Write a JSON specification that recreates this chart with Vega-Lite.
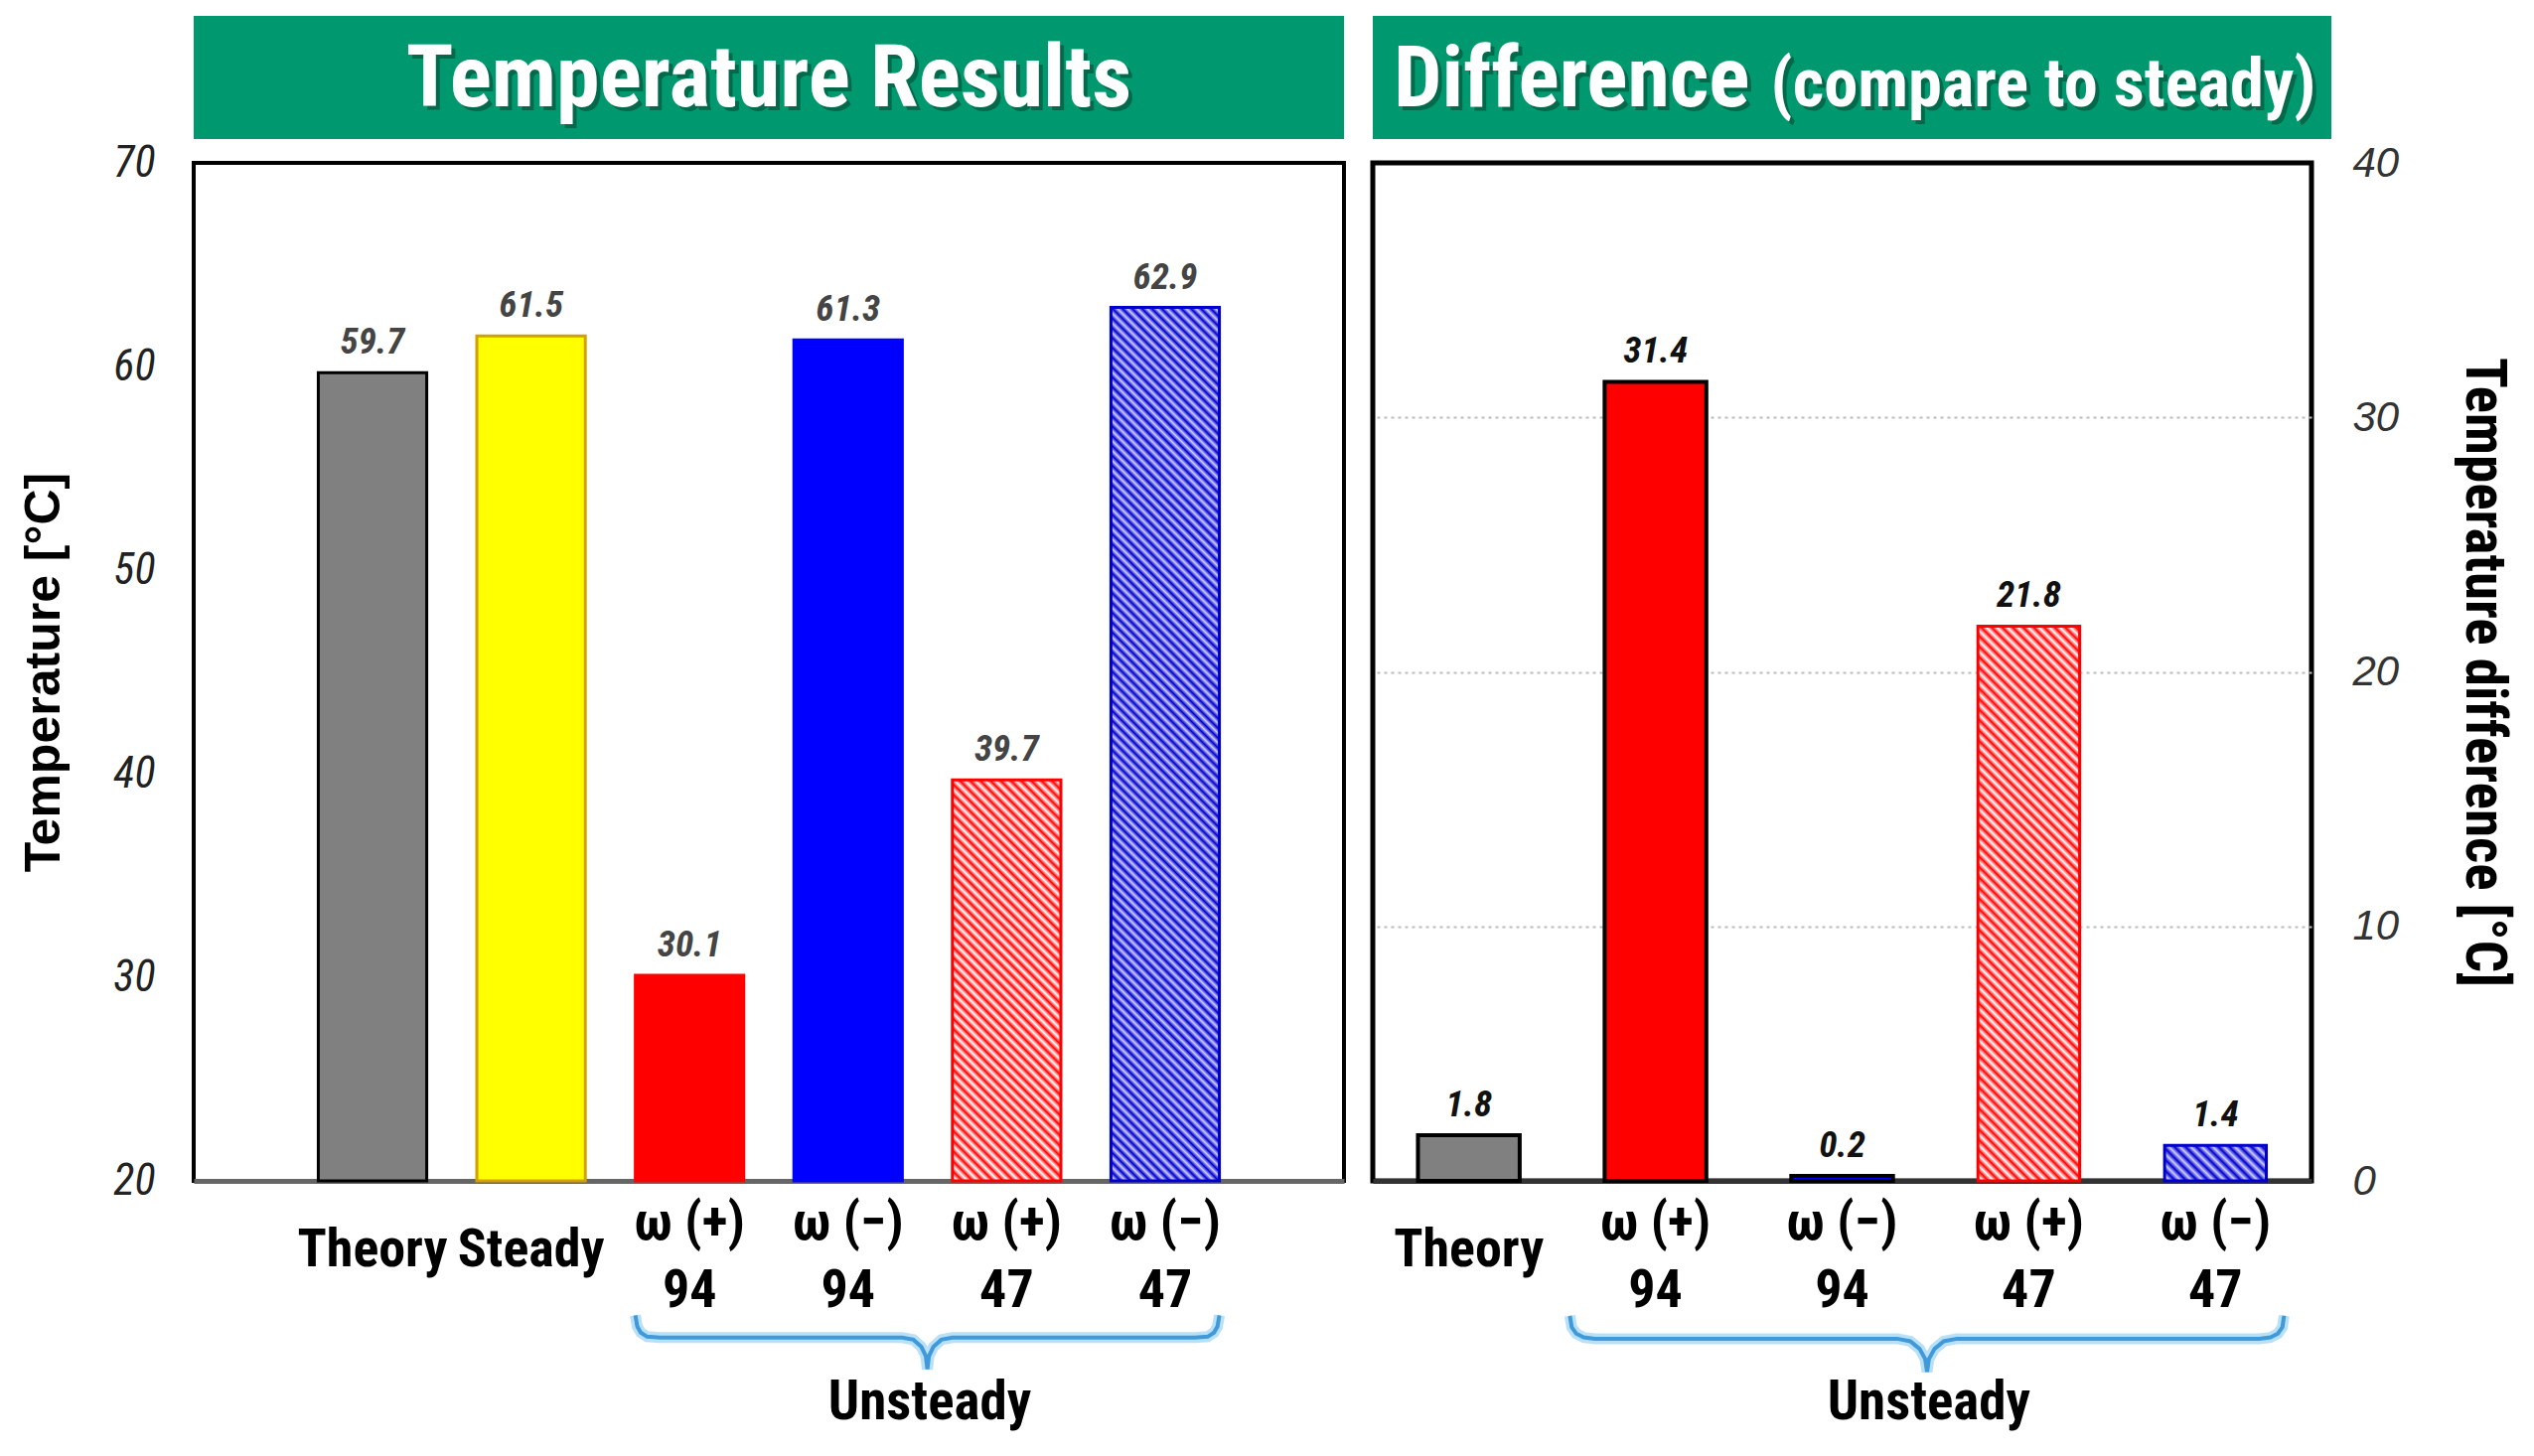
{
  "$schema": "https://vega.github.io/schema/vega-lite/v6.json",
  "background": "white",
  "padding": {"left": 17, "top": 16, "right": 5, "bottom": 5},
  "config": {
    "font": "Roboto Condensed, sans-serif",
    "view": {"stroke": null}
  },
  "datasets": {
    "temps": [
      {"cat": "Theory", "temp": 59.7},
      {"cat": "Steady", "temp": 61.5},
      {"cat": "ω (+)|94", "temp": 30.1},
      {"cat": "ω (−)|94", "temp": 61.3},
      {"cat": "ω (+)|47", "temp": 39.7},
      {"cat": "ω (−)|47", "temp": 62.9}
    ],
    "diffs": [
      {"cat": "Theory", "diff": 1.8},
      {"cat": "ω (+)|94", "diff": 31.4},
      {"cat": "ω (−)|94", "diff": 0.2},
      {"cat": "ω (+)|47", "diff": 21.8},
      {"cat": "ω (−)|47", "diff": 1.4}
    ],
    "braceL": [
      {"bx": 2.786, "by": 13.4}, {"bx": 2.798, "by": 12.85}, {"bx": 2.82, "by": 12.55}, {"bx": 2.86, "by": 12.35}, {"bx": 2.94, "by": 12.3},
      {"bx": 4.47, "by": 12.3}, {"bx": 4.54, "by": 12.2}, {"bx": 4.59, "by": 11.85}, {"bx": 4.618, "by": 11.4}, {"bx": 4.628, "by": 10.75},
      {"bx": 4.638, "by": 11.4}, {"bx": 4.666, "by": 11.85}, {"bx": 4.716, "by": 12.2}, {"bx": 4.786, "by": 12.3},
      {"bx": 6.316, "by": 12.3}, {"bx": 6.396, "by": 12.35}, {"bx": 6.436, "by": 12.55}, {"bx": 6.458, "by": 12.85}, {"bx": 6.47, "by": 13.4}
    ],
    "braceR": [
      {"bx": 1.056, "by": -5.3}, {"bx": 1.066, "by": -5.75}, {"bx": 1.09, "by": -6.0}, {"bx": 1.13, "by": -6.15}, {"bx": 1.19, "by": -6.2},
      {"bx": 2.81, "by": -6.2}, {"bx": 2.88, "by": -6.3}, {"bx": 2.93, "by": -6.6}, {"bx": 2.96, "by": -7.0}, {"bx": 2.97, "by": -7.5},
      {"bx": 2.98, "by": -7.0}, {"bx": 3.01, "by": -6.6}, {"bx": 3.06, "by": -6.3}, {"bx": 3.13, "by": -6.2},
      {"bx": 4.75, "by": -6.2}, {"bx": 4.81, "by": -6.15}, {"bx": 4.85, "by": -6.0}, {"bx": 4.874, "by": -5.75}, {"bx": 4.883, "by": -5.3}
    ]
  },
  "hconcat": [
    {
      "bounds": "flush",
      "spacing": 24,
      "vconcat": [
        {
          "width": 1158,
          "height": 124,
          "view": {"fill": "#00996f", "stroke": null},
          "data": {"values": [{"t": "Temperature Results"}]},
          "layer": [
            {"mark": {"type": "text", "font": "Roboto Condensed, sans-serif", "fontSize": 88, "fontWeight": "bold", "baseline": "alphabetic", "align": "center", "color": "#063b28", "opacity": 0.5, "dx": 4, "dy": 33}, "encoding": {"text": {"field": "t"}}},
            {"mark": {"type": "text", "font": "Roboto Condensed, sans-serif", "fontSize": 88, "fontWeight": "bold", "baseline": "alphabetic", "align": "center", "color": "#ffffff", "dy": 29}, "encoding": {"text": {"field": "t"}}}
          ]
        },
        {
          "width": 1158,
          "height": 1025,
          "view": {"stroke": "#000000", "strokeWidth": 4},
          "layer": [
            {
              "data": {"name": "temps"},
              "encoding": {
                "x": {
                  "field": "cat", "type": "nominal", "sort": null,
                  "scale": {"domain": ["Theory", "Steady", "ω (+)|94", "ω (−)|94", "ω (+)|47", "ω (−)|47"], "paddingInner": 0.316, "paddingOuter": 0.786},
                  "axis": {"title": null, "labelExpr": "split(datum.value, '|')", "labelAngle": 0, "labelFont": "Roboto Condensed, sans-serif", "labelFontSize": 54, "labelFontWeight": "bold", "labelColor": "#000000", "labelBaseline": {"condition": {"test": "indexof(datum.value, '|') < 0", "value": "top"}, "value": "middle"}, "labelPadding": 42, "labelLineHeight": 68, "labelLimit": 0, "ticks": false, "domainColor": "#666666", "domainWidth": 5, "labelOverlap": false, "labelBound": false, "labelFlush": false}
                },
                "y": {
                  "field": "temp", "type": "quantitative",
                  "scale": {"domain": [20, 70], "zero": false, "nice": false},
                  "axis": {"title": "Temperature [°C]", "values": [20, 30, 40, 50, 60, 70], "grid": false, "domain": false, "ticks": false, "labelFont": "Roboto Condensed, sans-serif", "labelFontSize": 44, "labelFontStyle": "italic", "labelColor": "#222222", "labelPadding": 39, "titleFont": "Liberation Sans, Arial, sans-serif", "titleFontSize": 50, "titleFontWeight": "bold", "titleColor": "#000000", "titlePadding": 44}
                }
              },
              "layer": [
                {
                  "transform": [{"filter": {"field": "cat", "oneOf": ["Theory", "Steady", "ω (+)|94", "ω (−)|94"]}}],
                  "mark": {"type": "bar", "strokeWidth": 3},
                  "encoding": {
                    "y2": {"datum": 20},
                    "fill": {"field": "cat", "type": "nominal", "legend": null, "scale": {"domain": ["Theory", "Steady", "ω (+)|94", "ω (−)|94"], "range": ["#808080", "#ffff00", "#ff0000", "#0000ff"]}},
                    "stroke": {"field": "cat", "type": "nominal", "legend": null, "scale": {"domain": ["Theory", "Steady", "ω (+)|94", "ω (−)|94"], "range": ["#000000", "#d4a000", "#ff0000", "#0000ff"]}}
                  }
                },
                {
                  "transform": [{"filter": {"field": "cat", "equal": "ω (+)|47"}}],
                  "mark": {"type": "bar", "stroke": "#ff0000", "strokeWidth": 3, "fill": {"gradient": "linear", "x1": 0, "y1": 1, "x2": 0.32, "y2": -0.184, "stops": [
{"offset":0,"color":"#f00"},{"offset":0.01,"color":"#fff"},{"offset":0.02,"color":"#f00"},{"offset":0.03,"color":"#fff"},{"offset":0.04,"color":"#f00"},{"offset":0.05,"color":"#fff"},{"offset":0.06,"color":"#f00"},{"offset":0.07,"color":"#fff"},{"offset":0.08,"color":"#f00"},{"offset":0.09,"color":"#fff"},
{"offset":0.1,"color":"#f00"},{"offset":0.11,"color":"#fff"},{"offset":0.12,"color":"#f00"},{"offset":0.13,"color":"#fff"},{"offset":0.14,"color":"#f00"},{"offset":0.15,"color":"#fff"},{"offset":0.16,"color":"#f00"},{"offset":0.17,"color":"#fff"},{"offset":0.18,"color":"#f00"},{"offset":0.19,"color":"#fff"},
{"offset":0.2,"color":"#f00"},{"offset":0.21,"color":"#fff"},{"offset":0.22,"color":"#f00"},{"offset":0.23,"color":"#fff"},{"offset":0.24,"color":"#f00"},{"offset":0.25,"color":"#fff"},{"offset":0.26,"color":"#f00"},{"offset":0.27,"color":"#fff"},{"offset":0.28,"color":"#f00"},{"offset":0.29,"color":"#fff"},
{"offset":0.3,"color":"#f00"},{"offset":0.31,"color":"#fff"},{"offset":0.32,"color":"#f00"},{"offset":0.33,"color":"#fff"},{"offset":0.34,"color":"#f00"},{"offset":0.35,"color":"#fff"},{"offset":0.36,"color":"#f00"},{"offset":0.37,"color":"#fff"},{"offset":0.38,"color":"#f00"},{"offset":0.39,"color":"#fff"},
{"offset":0.4,"color":"#f00"},{"offset":0.41,"color":"#fff"},{"offset":0.42,"color":"#f00"},{"offset":0.43,"color":"#fff"},{"offset":0.44,"color":"#f00"},{"offset":0.45,"color":"#fff"},{"offset":0.46,"color":"#f00"},{"offset":0.47,"color":"#fff"},{"offset":0.48,"color":"#f00"},{"offset":0.49,"color":"#fff"},
{"offset":0.5,"color":"#f00"},{"offset":0.51,"color":"#fff"},{"offset":0.52,"color":"#f00"},{"offset":0.53,"color":"#fff"},{"offset":0.54,"color":"#f00"},{"offset":0.55,"color":"#fff"},{"offset":0.56,"color":"#f00"},{"offset":0.57,"color":"#fff"},{"offset":0.58,"color":"#f00"},{"offset":0.59,"color":"#fff"},
{"offset":0.6,"color":"#f00"},{"offset":0.61,"color":"#fff"},{"offset":0.62,"color":"#f00"},{"offset":0.63,"color":"#fff"},{"offset":0.64,"color":"#f00"},{"offset":0.65,"color":"#fff"},{"offset":0.66,"color":"#f00"},{"offset":0.67,"color":"#fff"},{"offset":0.68,"color":"#f00"},{"offset":0.69,"color":"#fff"},
{"offset":0.7,"color":"#f00"},{"offset":0.71,"color":"#fff"},{"offset":0.72,"color":"#f00"},{"offset":0.73,"color":"#fff"},{"offset":0.74,"color":"#f00"},{"offset":0.75,"color":"#fff"},{"offset":0.76,"color":"#f00"},{"offset":0.77,"color":"#fff"},{"offset":0.78,"color":"#f00"},{"offset":0.79,"color":"#fff"},
{"offset":0.8,"color":"#f00"},{"offset":0.81,"color":"#fff"},{"offset":0.82,"color":"#f00"},{"offset":0.83,"color":"#fff"},{"offset":0.84,"color":"#f00"},{"offset":0.85,"color":"#fff"},{"offset":0.86,"color":"#f00"},{"offset":0.87,"color":"#fff"},{"offset":0.88,"color":"#f00"},{"offset":0.89,"color":"#fff"},
{"offset":0.9,"color":"#f00"},{"offset":0.91,"color":"#fff"},{"offset":0.92,"color":"#f00"},{"offset":0.93,"color":"#fff"},{"offset":0.94,"color":"#f00"},{"offset":0.95,"color":"#fff"},{"offset":0.96,"color":"#f00"},{"offset":0.97,"color":"#fff"},{"offset":0.98,"color":"#f00"},{"offset":0.99,"color":"#fff"},
{"offset":1,"color":"#f00"}]}},
                  "encoding": {"y2": {"datum": 20}}
                },
                {
                  "transform": [{"filter": {"field": "cat", "equal": "ω (−)|47"}}],
                  "mark": {"type": "bar", "stroke": "#0000cc", "strokeWidth": 3, "fill": {"gradient": "linear", "x1": 0, "y1": 1, "x2": 0.1375, "y2": -0.1071, "stops": [
{"offset":0,"color":"#00c"},{"offset":0.005,"color":"#ccf"},{"offset":0.01,"color":"#00c"},{"offset":0.015,"color":"#ccf"},{"offset":0.02,"color":"#00c"},{"offset":0.025,"color":"#ccf"},{"offset":0.03,"color":"#00c"},{"offset":0.035,"color":"#ccf"},{"offset":0.04,"color":"#00c"},{"offset":0.045,"color":"#ccf"},
{"offset":0.05,"color":"#00c"},{"offset":0.055,"color":"#ccf"},{"offset":0.06,"color":"#00c"},{"offset":0.065,"color":"#ccf"},{"offset":0.07,"color":"#00c"},{"offset":0.075,"color":"#ccf"},{"offset":0.08,"color":"#00c"},{"offset":0.085,"color":"#ccf"},{"offset":0.09,"color":"#00c"},{"offset":0.095,"color":"#ccf"},
{"offset":0.1,"color":"#00c"},{"offset":0.105,"color":"#ccf"},{"offset":0.11,"color":"#00c"},{"offset":0.115,"color":"#ccf"},{"offset":0.12,"color":"#00c"},{"offset":0.125,"color":"#ccf"},{"offset":0.13,"color":"#00c"},{"offset":0.135,"color":"#ccf"},{"offset":0.14,"color":"#00c"},{"offset":0.145,"color":"#ccf"},
{"offset":0.15,"color":"#00c"},{"offset":0.155,"color":"#ccf"},{"offset":0.16,"color":"#00c"},{"offset":0.165,"color":"#ccf"},{"offset":0.17,"color":"#00c"},{"offset":0.175,"color":"#ccf"},{"offset":0.18,"color":"#00c"},{"offset":0.185,"color":"#ccf"},{"offset":0.19,"color":"#00c"},{"offset":0.195,"color":"#ccf"},
{"offset":0.2,"color":"#00c"},{"offset":0.205,"color":"#ccf"},{"offset":0.21,"color":"#00c"},{"offset":0.215,"color":"#ccf"},{"offset":0.22,"color":"#00c"},{"offset":0.225,"color":"#ccf"},{"offset":0.23,"color":"#00c"},{"offset":0.235,"color":"#ccf"},{"offset":0.24,"color":"#00c"},{"offset":0.245,"color":"#ccf"},
{"offset":0.25,"color":"#00c"},{"offset":0.255,"color":"#ccf"},{"offset":0.26,"color":"#00c"},{"offset":0.265,"color":"#ccf"},{"offset":0.27,"color":"#00c"},{"offset":0.275,"color":"#ccf"},{"offset":0.28,"color":"#00c"},{"offset":0.285,"color":"#ccf"},{"offset":0.29,"color":"#00c"},{"offset":0.295,"color":"#ccf"},
{"offset":0.3,"color":"#00c"},{"offset":0.305,"color":"#ccf"},{"offset":0.31,"color":"#00c"},{"offset":0.315,"color":"#ccf"},{"offset":0.32,"color":"#00c"},{"offset":0.325,"color":"#ccf"},{"offset":0.33,"color":"#00c"},{"offset":0.335,"color":"#ccf"},{"offset":0.34,"color":"#00c"},{"offset":0.345,"color":"#ccf"},
{"offset":0.35,"color":"#00c"},{"offset":0.355,"color":"#ccf"},{"offset":0.36,"color":"#00c"},{"offset":0.365,"color":"#ccf"},{"offset":0.37,"color":"#00c"},{"offset":0.375,"color":"#ccf"},{"offset":0.38,"color":"#00c"},{"offset":0.385,"color":"#ccf"},{"offset":0.39,"color":"#00c"},{"offset":0.395,"color":"#ccf"},
{"offset":0.4,"color":"#00c"},{"offset":0.405,"color":"#ccf"},{"offset":0.41,"color":"#00c"},{"offset":0.415,"color":"#ccf"},{"offset":0.42,"color":"#00c"},{"offset":0.425,"color":"#ccf"},{"offset":0.43,"color":"#00c"},{"offset":0.435,"color":"#ccf"},{"offset":0.44,"color":"#00c"},{"offset":0.445,"color":"#ccf"},
{"offset":0.45,"color":"#00c"},{"offset":0.455,"color":"#ccf"},{"offset":0.46,"color":"#00c"},{"offset":0.465,"color":"#ccf"},{"offset":0.47,"color":"#00c"},{"offset":0.475,"color":"#ccf"},{"offset":0.48,"color":"#00c"},{"offset":0.485,"color":"#ccf"},{"offset":0.49,"color":"#00c"},{"offset":0.495,"color":"#ccf"},
{"offset":0.5,"color":"#00c"},{"offset":0.505,"color":"#ccf"},{"offset":0.51,"color":"#00c"},{"offset":0.515,"color":"#ccf"},{"offset":0.52,"color":"#00c"},{"offset":0.525,"color":"#ccf"},{"offset":0.53,"color":"#00c"},{"offset":0.535,"color":"#ccf"},{"offset":0.54,"color":"#00c"},{"offset":0.545,"color":"#ccf"},
{"offset":0.55,"color":"#00c"},{"offset":0.555,"color":"#ccf"},{"offset":0.56,"color":"#00c"},{"offset":0.565,"color":"#ccf"},{"offset":0.57,"color":"#00c"},{"offset":0.575,"color":"#ccf"},{"offset":0.58,"color":"#00c"},{"offset":0.585,"color":"#ccf"},{"offset":0.59,"color":"#00c"},{"offset":0.595,"color":"#ccf"},
{"offset":0.6,"color":"#00c"},{"offset":0.605,"color":"#ccf"},{"offset":0.61,"color":"#00c"},{"offset":0.615,"color":"#ccf"},{"offset":0.62,"color":"#00c"},{"offset":0.625,"color":"#ccf"},{"offset":0.63,"color":"#00c"},{"offset":0.635,"color":"#ccf"},{"offset":0.64,"color":"#00c"},{"offset":0.645,"color":"#ccf"},
{"offset":0.65,"color":"#00c"},{"offset":0.655,"color":"#ccf"},{"offset":0.66,"color":"#00c"},{"offset":0.665,"color":"#ccf"},{"offset":0.67,"color":"#00c"},{"offset":0.675,"color":"#ccf"},{"offset":0.68,"color":"#00c"},{"offset":0.685,"color":"#ccf"},{"offset":0.69,"color":"#00c"},{"offset":0.695,"color":"#ccf"},
{"offset":0.7,"color":"#00c"},{"offset":0.705,"color":"#ccf"},{"offset":0.71,"color":"#00c"},{"offset":0.715,"color":"#ccf"},{"offset":0.72,"color":"#00c"},{"offset":0.725,"color":"#ccf"},{"offset":0.73,"color":"#00c"},{"offset":0.735,"color":"#ccf"},{"offset":0.74,"color":"#00c"},{"offset":0.745,"color":"#ccf"},
{"offset":0.75,"color":"#00c"},{"offset":0.755,"color":"#ccf"},{"offset":0.76,"color":"#00c"},{"offset":0.765,"color":"#ccf"},{"offset":0.77,"color":"#00c"},{"offset":0.775,"color":"#ccf"},{"offset":0.78,"color":"#00c"},{"offset":0.785,"color":"#ccf"},{"offset":0.79,"color":"#00c"},{"offset":0.795,"color":"#ccf"},
{"offset":0.8,"color":"#00c"},{"offset":0.805,"color":"#ccf"},{"offset":0.81,"color":"#00c"},{"offset":0.815,"color":"#ccf"},{"offset":0.82,"color":"#00c"},{"offset":0.825,"color":"#ccf"},{"offset":0.83,"color":"#00c"},{"offset":0.835,"color":"#ccf"},{"offset":0.84,"color":"#00c"},{"offset":0.845,"color":"#ccf"},
{"offset":0.85,"color":"#00c"},{"offset":0.855,"color":"#ccf"},{"offset":0.86,"color":"#00c"},{"offset":0.865,"color":"#ccf"},{"offset":0.87,"color":"#00c"},{"offset":0.875,"color":"#ccf"},{"offset":0.88,"color":"#00c"},{"offset":0.885,"color":"#ccf"},{"offset":0.89,"color":"#00c"},{"offset":0.895,"color":"#ccf"},
{"offset":0.9,"color":"#00c"},{"offset":0.905,"color":"#ccf"},{"offset":0.91,"color":"#00c"},{"offset":0.915,"color":"#ccf"},{"offset":0.92,"color":"#00c"},{"offset":0.925,"color":"#ccf"},{"offset":0.93,"color":"#00c"},{"offset":0.935,"color":"#ccf"},{"offset":0.94,"color":"#00c"},{"offset":0.945,"color":"#ccf"},
{"offset":0.95,"color":"#00c"},{"offset":0.955,"color":"#ccf"},{"offset":0.96,"color":"#00c"},{"offset":0.965,"color":"#ccf"},{"offset":0.97,"color":"#00c"},{"offset":0.975,"color":"#ccf"},{"offset":0.98,"color":"#00c"},{"offset":0.985,"color":"#ccf"},{"offset":0.99,"color":"#00c"},{"offset":0.995,"color":"#ccf"},
{"offset":1,"color":"#00c"}]}},
                  "encoding": {"y2": {"datum": 20}}
                },
                {
                  "mark": {"type": "text", "font": "Roboto Condensed, sans-serif", "fontSize": 37, "fontStyle": "italic", "fontWeight": "bold", "color": "#444444", "baseline": "alphabetic", "dy": -19},
                  "encoding": {"text": {"field": "temp", "type": "quantitative", "format": ".1f"}}
                }
              ]
            },
            {
              "data": {"name": "braceL"},
              "mark": {"type": "line", "stroke": "#a9d8f5", "strokeWidth": 11, "opacity": 0.8, "interpolate": "linear"},
              "encoding": {
                "x": {"field": "bx", "type": "quantitative", "scale": {"domain": [0, 7.256], "nice": false, "zero": false}, "axis": null},
                "y": {"field": "by", "type": "quantitative", "scale": {"domain": [20, 70], "zero": false, "nice": false}, "axis": null}
              }
            },
            {
              "data": {"name": "braceL"},
              "mark": {"type": "line", "stroke": "#3e9ada", "strokeWidth": 4, "interpolate": "linear"},
              "encoding": {
                "x": {"field": "bx", "type": "quantitative", "scale": {"domain": [0, 7.256], "nice": false, "zero": false}, "axis": null},
                "y": {"field": "by", "type": "quantitative", "scale": {"domain": [20, 70], "zero": false, "nice": false}, "axis": null}
              }
            },
            {
              "data": {"values": [{"bx": 4.643, "by": 9.13, "label": "Unsteady"}]},
              "mark": {"type": "text", "font": "Roboto Condensed, sans-serif", "fontSize": 55, "fontWeight": "bold", "color": "#000000", "baseline": "middle", "align": "center"},
              "encoding": {
                "x": {"field": "bx", "type": "quantitative", "scale": {"domain": [0, 7.256], "nice": false, "zero": false}, "axis": null},
                "y": {"field": "by", "type": "quantitative", "scale": {"domain": [20, 70], "zero": false, "nice": false}, "axis": null},
                "text": {"field": "label"}
              }
            }
          ],
          "resolve": {"scale": {"x": "independent", "y": "independent"}}
        }
      ]
    },
    {
      "bounds": "flush",
      "spacing": 24,
      "vconcat": [
        {
          "width": 965,
          "height": 124,
          "view": {"fill": "#00996f", "stroke": null},
          "layer": [
            {"data": {"values": [{"t": "Difference"}]}, "mark": {"type": "text", "font": "Roboto Condensed, sans-serif", "fontSize": 86, "fontWeight": "bold", "baseline": "alphabetic", "align": "right", "color": "#063b28", "opacity": 0.5, "dx": -99, "dy": 33}, "encoding": {"text": {"field": "t"}}},
            {"data": {"values": [{"t": "(compare to steady)"}]}, "mark": {"type": "text", "font": "Roboto Condensed, sans-serif", "fontSize": 68.5, "fontWeight": "bold", "baseline": "alphabetic", "align": "left", "color": "#063b28", "opacity": 0.5, "dx": -78, "dy": 33}, "encoding": {"text": {"field": "t"}}},
            {"data": {"values": [{"t": "Difference"}]}, "mark": {"type": "text", "font": "Roboto Condensed, sans-serif", "fontSize": 86, "fontWeight": "bold", "baseline": "alphabetic", "align": "right", "color": "#ffffff", "dx": -103, "dy": 29}, "encoding": {"text": {"field": "t"}}},
            {"data": {"values": [{"t": "(compare to steady)"}]}, "mark": {"type": "text", "font": "Roboto Condensed, sans-serif", "fontSize": 68.5, "fontWeight": "bold", "baseline": "alphabetic", "align": "left", "color": "#ffffff", "dx": -82, "dy": 29}, "encoding": {"text": {"field": "t"}}}
          ]
        },
        {
          "width": 945,
          "height": 1025,
          "view": {"stroke": "#000000", "strokeWidth": 5},
          "layer": [
            {
              "data": {"name": "diffs"},
              "encoding": {
                "x": {
                  "field": "cat", "type": "nominal", "sort": null,
                  "scale": {"domain": ["Theory", "ω (+)|94", "ω (−)|94", "ω (+)|47", "ω (−)|47"], "paddingInner": 0.455, "paddingOuter": 0.242},
                  "axis": {"title": null, "labelExpr": "split(datum.value, '|')", "labelAngle": 0, "labelFont": "Roboto Condensed, sans-serif", "labelFontSize": 54, "labelFontWeight": "bold", "labelColor": "#000000", "labelBaseline": {"condition": {"test": "indexof(datum.value, '|') < 0", "value": "top"}, "value": "middle"}, "labelPadding": 42, "labelLineHeight": 68, "labelLimit": 0, "ticks": false, "domainColor": "#333333", "domainWidth": 5, "labelOverlap": false, "labelBound": false, "labelFlush": false}
                },
                "y": {
                  "field": "diff", "type": "quantitative",
                  "scale": {"domain": [0, 40], "nice": false},
                  "axis": {"orient": "right", "title": "Temperature difference [°C]", "values": [0, 10, 20, 30, 40], "grid": true, "gridColor": "#bbbbbb", "gridDash": [3, 4], "gridWidth": 2, "gridOpacity": {"condition": {"test": "datum.value == 0 || datum.value == 40", "value": 0}, "value": 1}, "domain": false, "ticks": false, "labelFont": "Liberation Sans, Arial, sans-serif", "labelFontSize": 42, "labelFontStyle": "italic", "labelColor": "#333333", "labelPadding": 41, "titleFont": "Roboto Condensed, sans-serif", "titleFontSize": 57, "titleFontWeight": "bold", "titleColor": "#000000", "titlePadding": 56}
                }
              },
              "layer": [
                {
                  "transform": [{"filter": {"field": "cat", "oneOf": ["Theory", "ω (+)|94", "ω (−)|94"]}}],
                  "mark": {"type": "bar", "stroke": "#000000", "strokeWidth": 4},
                  "encoding": {
                    "y2": {"datum": 0},
                    "fill": {"field": "cat", "type": "nominal", "legend": null, "scale": {"domain": ["Theory", "ω (+)|94", "ω (−)|94"], "range": ["#808080", "#ff0000", "#222222"]}}
                  }
                },
                {
                  "transform": [{"filter": {"field": "cat", "equal": "ω (+)|47"}}],
                  "mark": {"type": "bar", "stroke": "#ff0000", "strokeWidth": 3, "fill": {"gradient": "linear", "x1": 0, "y1": 1, "x2": 0.2099, "y2": -0.1448, "stops": [
{"offset":0,"color":"#f00"},{"offset":0.008,"color":"#fff"},{"offset":0.016,"color":"#f00"},{"offset":0.024,"color":"#fff"},{"offset":0.032,"color":"#f00"},{"offset":0.04,"color":"#fff"},{"offset":0.048,"color":"#f00"},{"offset":0.056,"color":"#fff"},{"offset":0.064,"color":"#f00"},{"offset":0.072,"color":"#fff"},
{"offset":0.08,"color":"#f00"},{"offset":0.088,"color":"#fff"},{"offset":0.096,"color":"#f00"},{"offset":0.104,"color":"#fff"},{"offset":0.112,"color":"#f00"},{"offset":0.12,"color":"#fff"},{"offset":0.128,"color":"#f00"},{"offset":0.136,"color":"#fff"},{"offset":0.144,"color":"#f00"},{"offset":0.152,"color":"#fff"},
{"offset":0.16,"color":"#f00"},{"offset":0.168,"color":"#fff"},{"offset":0.176,"color":"#f00"},{"offset":0.184,"color":"#fff"},{"offset":0.192,"color":"#f00"},{"offset":0.2,"color":"#fff"},{"offset":0.208,"color":"#f00"},{"offset":0.216,"color":"#fff"},{"offset":0.224,"color":"#f00"},{"offset":0.232,"color":"#fff"},
{"offset":0.24,"color":"#f00"},{"offset":0.248,"color":"#fff"},{"offset":0.256,"color":"#f00"},{"offset":0.264,"color":"#fff"},{"offset":0.272,"color":"#f00"},{"offset":0.28,"color":"#fff"},{"offset":0.288,"color":"#f00"},{"offset":0.296,"color":"#fff"},{"offset":0.304,"color":"#f00"},{"offset":0.312,"color":"#fff"},
{"offset":0.32,"color":"#f00"},{"offset":0.328,"color":"#fff"},{"offset":0.336,"color":"#f00"},{"offset":0.344,"color":"#fff"},{"offset":0.352,"color":"#f00"},{"offset":0.36,"color":"#fff"},{"offset":0.368,"color":"#f00"},{"offset":0.376,"color":"#fff"},{"offset":0.384,"color":"#f00"},{"offset":0.392,"color":"#fff"},
{"offset":0.4,"color":"#f00"},{"offset":0.408,"color":"#fff"},{"offset":0.416,"color":"#f00"},{"offset":0.424,"color":"#fff"},{"offset":0.432,"color":"#f00"},{"offset":0.44,"color":"#fff"},{"offset":0.448,"color":"#f00"},{"offset":0.456,"color":"#fff"},{"offset":0.464,"color":"#f00"},{"offset":0.472,"color":"#fff"},
{"offset":0.48,"color":"#f00"},{"offset":0.488,"color":"#fff"},{"offset":0.496,"color":"#f00"},{"offset":0.504,"color":"#fff"},{"offset":0.512,"color":"#f00"},{"offset":0.52,"color":"#fff"},{"offset":0.528,"color":"#f00"},{"offset":0.536,"color":"#fff"},{"offset":0.544,"color":"#f00"},{"offset":0.552,"color":"#fff"},
{"offset":0.56,"color":"#f00"},{"offset":0.568,"color":"#fff"},{"offset":0.576,"color":"#f00"},{"offset":0.584,"color":"#fff"},{"offset":0.592,"color":"#f00"},{"offset":0.6,"color":"#fff"},{"offset":0.608,"color":"#f00"},{"offset":0.616,"color":"#fff"},{"offset":0.624,"color":"#f00"},{"offset":0.632,"color":"#fff"},
{"offset":0.64,"color":"#f00"},{"offset":0.648,"color":"#fff"},{"offset":0.656,"color":"#f00"},{"offset":0.664,"color":"#fff"},{"offset":0.672,"color":"#f00"},{"offset":0.68,"color":"#fff"},{"offset":0.688,"color":"#f00"},{"offset":0.696,"color":"#fff"},{"offset":0.704,"color":"#f00"},{"offset":0.712,"color":"#fff"},
{"offset":0.72,"color":"#f00"},{"offset":0.728,"color":"#fff"},{"offset":0.736,"color":"#f00"},{"offset":0.744,"color":"#fff"},{"offset":0.752,"color":"#f00"},{"offset":0.76,"color":"#fff"},{"offset":0.768,"color":"#f00"},{"offset":0.776,"color":"#fff"},{"offset":0.784,"color":"#f00"},{"offset":0.792,"color":"#fff"},
{"offset":0.8,"color":"#f00"},{"offset":0.808,"color":"#fff"},{"offset":0.816,"color":"#f00"},{"offset":0.824,"color":"#fff"},{"offset":0.832,"color":"#f00"},{"offset":0.84,"color":"#fff"},{"offset":0.848,"color":"#f00"},{"offset":0.856,"color":"#fff"},{"offset":0.864,"color":"#f00"},{"offset":0.872,"color":"#fff"},
{"offset":0.88,"color":"#f00"},{"offset":0.888,"color":"#fff"},{"offset":0.896,"color":"#f00"},{"offset":0.904,"color":"#fff"},{"offset":0.912,"color":"#f00"},{"offset":0.92,"color":"#fff"},{"offset":0.928,"color":"#f00"},{"offset":0.936,"color":"#fff"},{"offset":0.944,"color":"#f00"},{"offset":0.952,"color":"#fff"},
{"offset":0.96,"color":"#f00"},{"offset":0.968,"color":"#fff"},{"offset":0.976,"color":"#f00"},{"offset":0.984,"color":"#fff"},{"offset":0.992,"color":"#f00"},{"offset":1,"color":"#fff"}]}},
                  "encoding": {"y2": {"datum": 0}}
                },
                {
                  "transform": [{"filter": {"field": "cat", "equal": "ω (−)|47"}}],
                  "mark": {"type": "bar", "stroke": "#0000cc", "strokeWidth": 3, "fill": {"gradient": "linear", "x1": 0, "y1": 1, "x2": 1.2027, "y2": 0.5784, "stops": [
{"offset":0,"color":"#00c"},{"offset":0.04,"color":"#ccf"},{"offset":0.08,"color":"#00c"},{"offset":0.12,"color":"#ccf"},{"offset":0.16,"color":"#00c"},{"offset":0.2,"color":"#ccf"},{"offset":0.24,"color":"#00c"},{"offset":0.28,"color":"#ccf"},{"offset":0.32,"color":"#00c"},{"offset":0.36,"color":"#ccf"},
{"offset":0.4,"color":"#00c"},{"offset":0.44,"color":"#ccf"},{"offset":0.48,"color":"#00c"},{"offset":0.52,"color":"#ccf"},{"offset":0.56,"color":"#00c"},{"offset":0.6,"color":"#ccf"},{"offset":0.64,"color":"#00c"},{"offset":0.68,"color":"#ccf"},{"offset":0.72,"color":"#00c"},{"offset":0.76,"color":"#ccf"},
{"offset":0.8,"color":"#00c"},{"offset":0.84,"color":"#ccf"},{"offset":0.88,"color":"#00c"},{"offset":0.92,"color":"#ccf"},{"offset":0.96,"color":"#00c"},{"offset":1,"color":"#ccf"}]}},
                  "encoding": {"y2": {"datum": 0}}
                },
                {
                  "mark": {"type": "text", "font": "Roboto Condensed, sans-serif", "fontSize": 37, "fontStyle": "italic", "fontWeight": "bold", "color": "#111111", "baseline": "alphabetic", "dy": -19},
                  "encoding": {"text": {"field": "diff", "type": "quantitative", "format": ".1f"}}
                }
              ]
            },
            {
              "data": {"name": "braceR"},
              "mark": {"type": "line", "stroke": "#a9d8f5", "strokeWidth": 11, "opacity": 0.8, "interpolate": "linear"},
              "encoding": {
                "x": {"field": "bx", "type": "quantitative", "scale": {"domain": [0, 5.03], "nice": false, "zero": false}, "axis": null},
                "y": {"field": "by", "type": "quantitative", "scale": {"domain": [0, 40], "nice": false}, "axis": null}
              }
            },
            {
              "data": {"name": "braceR"},
              "mark": {"type": "line", "stroke": "#3e9ada", "strokeWidth": 4, "interpolate": "linear"},
              "encoding": {
                "x": {"field": "bx", "type": "quantitative", "scale": {"domain": [0, 5.03], "nice": false, "zero": false}, "axis": null},
                "y": {"field": "by", "type": "quantitative", "scale": {"domain": [0, 40], "nice": false}, "axis": null}
              }
            },
            {
              "data": {"values": [{"bx": 2.98, "by": -8.7, "label": "Unsteady"}]},
              "mark": {"type": "text", "font": "Roboto Condensed, sans-serif", "fontSize": 55, "fontWeight": "bold", "color": "#000000", "baseline": "middle", "align": "center"},
              "encoding": {
                "x": {"field": "bx", "type": "quantitative", "scale": {"domain": [0, 5.03], "nice": false, "zero": false}, "axis": null},
                "y": {"field": "by", "type": "quantitative", "scale": {"domain": [0, 40], "nice": false}, "axis": null},
                "text": {"field": "label"}
              }
            }
          ],
          "resolve": {"scale": {"x": "independent", "y": "independent"}}
        }
      ]
    }
  ],
  "spacing": 24
}
